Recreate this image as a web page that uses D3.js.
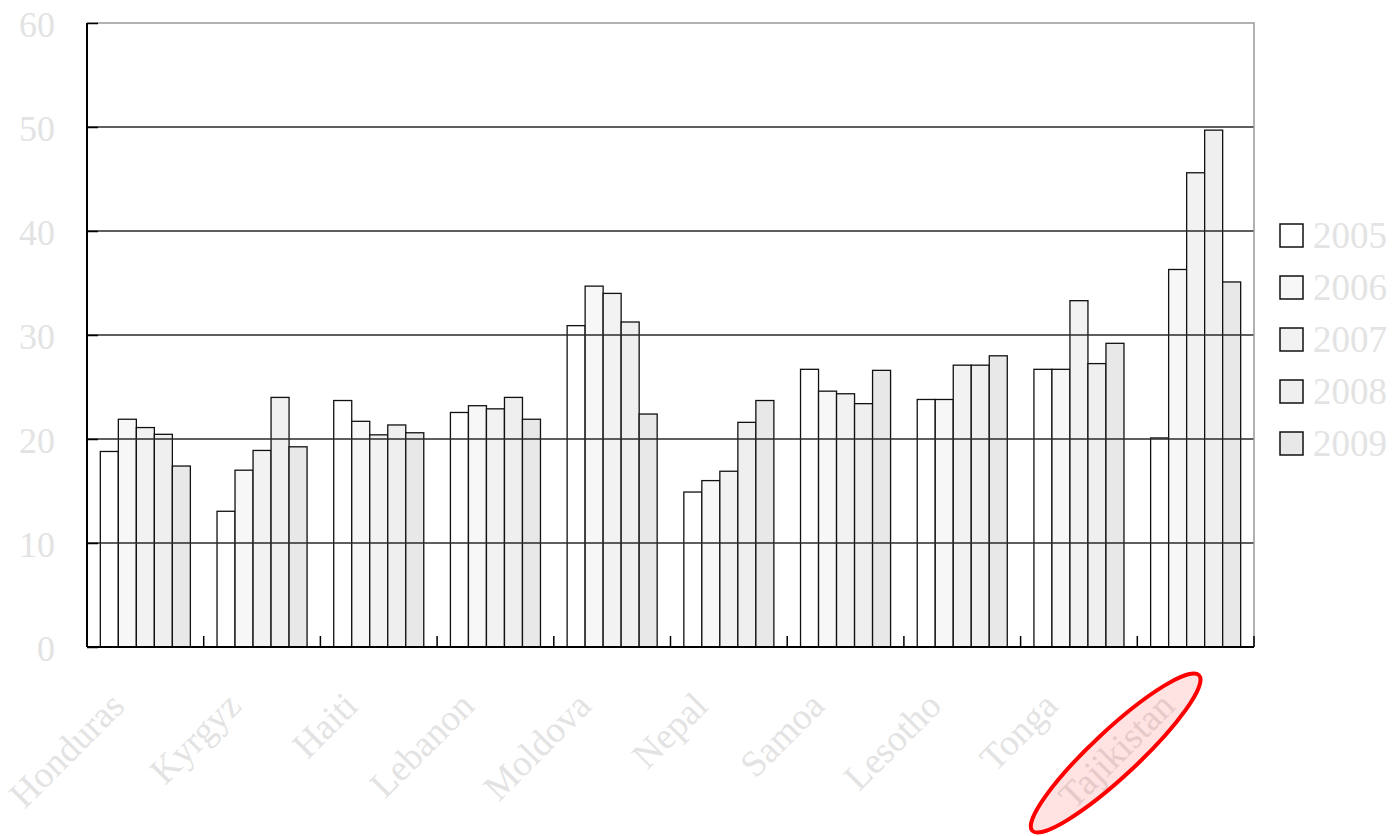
<!DOCTYPE html>
<html>
<head>
<meta charset="utf-8">
<script src="https://cdn.jsdelivr.net/npm/d3@7"></script>
<style>
  body { margin: 0; background: #fff; }
  text { font-family: "Liberation Serif", "Times New Roman", serif; }
</style>
</head>
<body>
<svg id="chart" width="1392" height="836"></svg>
<script>
// Countries and years
const countries = ["Honduras", "Kyrgyz", "Haiti", "Lebanon", "Moldova", "Nepal", "Samoa", "Lesotho", "Tonga", "Tajikistan"];
const years = ["2005", "2006", "2007", "2008", "2009"];

// Values per year, one entry per country
const v2005 = [18.8, 13.05, 23.7, 22.55, 30.9, 14.9, 26.7, 23.8, 26.7, 20.1];
const v2006 = [21.9, 17.0, 21.7, 23.2, 34.7, 16.0, 24.6, 23.8, 26.7, 36.3];
const v2007 = [21.1, 18.9, 20.4, 22.9, 34.0, 16.9, 24.35, 27.1, 33.3, 45.6];
const v2008 = [20.45, 24.0, 21.35, 24.0, 31.25, 21.6, 23.4, 27.1, 27.25, 49.7];
const v2009 = [17.4, 19.25, 20.6, 21.9, 22.4, 23.7, 26.6, 28.0, 29.2, 35.1];
const yTicks = [0, 10, 20, 30, 40, 50, 60];

const seriesValues = [v2005, v2006, v2007, v2008, v2009];
const fills = ["#ffffff", "#f7f7f7", "#f2f2f2", "#efefef", "#e8e8e8"];
const labelColor = "#e3e3e3";

const svg = d3.select("#chart");
const plotLeft = 87, plotRight = 1254, plotTop = 23, plotBottom = 647;

const x = d3.scaleBand().domain(countries).range([plotLeft, plotRight]).padding(0);
const xInner = d3.scaleBand().domain(years).range([0, x.bandwidth()])
  .paddingInner(0).paddingOuter(0.74);
const y = d3.scaleLinear().domain([0, 60]).range([plotBottom, plotTop]);
const color = d3.scaleOrdinal().domain(years).range(fills);

// Bars
const rows = [];
countries.forEach((c, i) => {
  years.forEach((yr, j) => rows.push({ country: c, year: yr, value: seriesValues[j][i] }));
});

svg.append("g")
  .selectAll("rect")
  .data(rows)
  .join("rect")
  .attr("x", (d) => x(d.country) + xInner(d.year))
  .attr("y", (d) => y(d.value))
  .attr("width", xInner.bandwidth())
  .attr("height", (d) => y(0) - y(d.value))
  .attr("fill", (d) => color(d.year))
  .attr("stroke", "#111").attr("stroke-width", 1.3);

// Grid lines (drawn over the bars)
svg.append("g")
  .selectAll("line")
  .data(yTicks.filter((d) => d > 0 && d < 60))
  .join("line")
  .attr("x1", plotLeft).attr("x2", plotRight)
  .attr("y1", (d) => y(d)).attr("y2", (d) => y(d))
  .attr("stroke", "#2a2a2a").attr("stroke-width", 1.3);

// Frame top and right
svg.append("path")
  .attr("d", `M${plotLeft},${y(60)}H${plotRight}V${plotBottom}`)
  .attr("fill", "none").attr("stroke", "#999").attr("stroke-width", 1.5);

// Y axis
const yAxis = svg.append("g")
  .attr("transform", `translate(${plotLeft},0)`)
  .call(d3.axisRight(y).tickValues(yTicks).tickSize(11).tickFormat(""));
yAxis.select(".domain").remove();
yAxis.selectAll("line").attr("stroke", "#000").attr("stroke-width", 1.5);

svg.append("g")
  .selectAll("text")
  .data(yTicks)
  .join("text")
  .attr("x", 55)
  .attr("y", (d) => y(d))
  .attr("dy", "0.4em")
  .attr("text-anchor", "end")
  .attr("font-size", 36)
  .attr("fill", labelColor)
  .text((d) => d);

// X axis ticks at category boundaries
const bounds = countries.slice(1).map((c) => x(c)).concat([plotRight]);
svg.append("g")
  .selectAll("line")
  .data(bounds)
  .join("line")
  .attr("x1", (d) => d).attr("x2", (d) => d)
  .attr("y1", plotBottom).attr("y2", plotBottom - 11)
  .attr("stroke", "#000").attr("stroke-width", 1.5);

svg.append("line")
  .attr("x1", plotLeft).attr("x2", plotLeft).attr("y1", plotTop).attr("y2", plotBottom)
  .attr("stroke", "#000").attr("stroke-width", 2);
svg.append("line")
  .attr("x1", plotLeft).attr("x2", plotRight).attr("y1", plotBottom).attr("y2", plotBottom)
  .attr("stroke", "#000").attr("stroke-width", 2);

// X labels, rotated
svg.append("g")
  .selectAll("text")
  .data(countries)
  .join("text")
  .attr("transform", (d) => `translate(${x(d) + x.bandwidth() / 2 - 19},708) rotate(-45)`)
  .attr("text-anchor", "end")
  .attr("font-size", 37)
  .attr("fill", labelColor)
  .text((d) => d);

// Highlight around Tajikistan label
const tx = x("Tajikistan") + x.bandwidth() / 2 - 19;
svg.append("ellipse")
  .attr("transform", `translate(${tx - 61},${753}) rotate(-43)`)
  .attr("rx", 114).attr("ry", 23)
  .attr("fill", "rgba(255,0,0,0.11)")
  .attr("stroke", "#ff0000").attr("stroke-width", 4);

// Legend
const legend = svg.append("g")
  .selectAll("g")
  .data(years)
  .join("g")
  .attr("transform", (d, i) => `translate(1280,${224 + i * 52})`);

legend.append("rect")
  .attr("width", 23).attr("height", 23)
  .attr("fill", (d) => color(d))
  .attr("stroke", "#111").attr("stroke-width", 1.5);

legend.append("text")
  .attr("x", 33).attr("y", 24)
  .attr("font-size", 37)
  .attr("fill", labelColor)
  .text((d) => d);
</script>
</body>
</html>
